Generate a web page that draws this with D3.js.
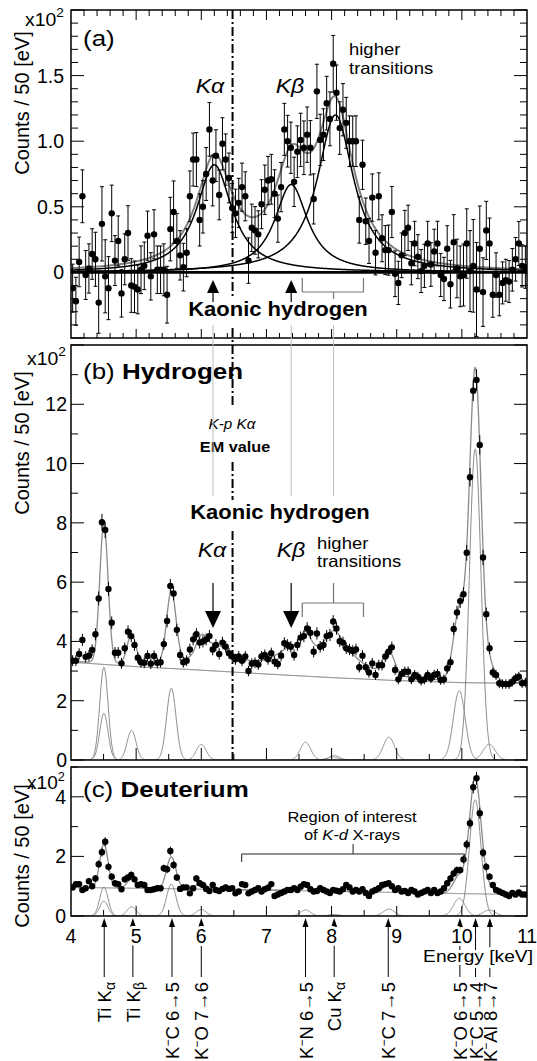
<!DOCTYPE html>
<html><head><meta charset="utf-8">
<script src="https://cdn.jsdelivr.net/npm/d3@7"></script>
<style>
html,body{margin:0;padding:0;background:#fff;}
svg{display:block;}
text{font-family:"Liberation Sans",Arial,Helvetica,sans-serif;}
</style></head><body>
<script>
// ---------------- DATA ----------------
const E_START = 4.0, BIN_WIDTH = 0.05;
// (a) kaonic hydrogen spectrum after background subtraction (x10^2 counts / 50 eV)
const countsA = [
 -0.12,-0.22,0.08,0.58,-0.02,0.03,0.14,0.10,-0.23,0.37,
 -0.03,-0.12,0.45,0.09,0.24,-0.16,0.10,0.30,-0.10,-0.11,
 -0.13,0.02,0.05,0.28,-0.03,0.29,0.02,0.02,0.02,-0.17,
 0.33,0.46,0.24,0.13,0.04,0.15,0.58,0.86,0.86,0.40,
 0.50,0.75,1.09,0.70,0.89,0.59,0.98,0.86,0.72,0.49,
 0.45,0.53,0.65,0.58,0.09,0.34,0.32,0.29,0.52,0.63,
 0.70,0.71,0.60,0.41,0.65,1.09,1.00,0.95,0.69,0.92,
 1.01,0.95,1.05,0.95,0.56,1.38,1.01,1.05,1.29,1.17,
 1.59,1.37,1.10,1.24,1.14,1.00,1.00,1.00,0.40,0.82,
 0.39,0.24,0.57,0.15,0.58,0.26,0.17,0.17,0.46,-0.01,
 -0.08,0.13,0.30,0.34,0.07,0.22,0.12,0.01,0.05,0.22,
 0.06,0.16,0.22,-0.02,-0.05,0.18,-0.09,0.23,0.03,-0.03,
 -0.02,0.22,0.01,0.05,-0.13,0.18,-0.15,0.32,0.22,-0.17,
 -0.02,-0.17,-0.08,-0.06,-0.07,0.02,0.10,0.22,0.05,0.04];
// (b) hydrogen target spectrum
const countsH = [
 3.35,3.35,3.58,4.05,3.48,3.52,3.71,4.24,5.45,8.02,
 7.76,5.77,4.63,3.62,3.62,3.26,3.77,4.33,4.18,3.88,
 3.45,3.30,3.28,3.51,3.25,3.51,3.28,3.30,3.91,4.69,
 5.87,5.62,4.39,3.54,3.30,3.35,3.73,4.07,4.24,3.96,
 4.00,4.07,4.18,3.73,3.88,3.58,3.96,3.82,3.60,3.49,
 3.40,3.49,3.35,3.49,3.00,3.25,3.28,3.22,3.49,3.54,
 3.40,3.60,3.32,3.24,3.52,3.94,3.88,3.82,3.54,3.88,
 4.13,4.18,4.44,4.29,3.65,4.27,3.82,3.88,4.18,4.22,
 4.67,4.44,4.01,3.96,3.77,3.73,3.68,3.73,3.13,3.52,
 3.13,2.95,3.26,2.87,3.20,3.20,3.49,3.65,3.80,3.04,
 2.72,2.90,2.98,2.98,2.72,2.87,2.81,2.68,2.72,2.87,
 2.76,2.87,2.90,2.70,2.72,3.09,3.30,4.42,4.98,5.36,
 5.59,6.99,9.54,12.46,12.82,10.63,6.83,4.92,3.77,2.95,
 2.87,2.59,2.56,2.56,2.56,2.64,2.76,2.81,2.59,2.61];
// (c) deuterium target spectrum
const countsD = [
 0.96,1.07,1.07,0.87,0.93,1.17,1.00,1.26,1.74,2.14,
 2.49,1.65,1.32,1.10,1.07,0.90,1.23,1.29,1.38,1.23,
 1.04,1.07,1.04,0.87,0.87,0.90,0.93,0.93,1.60,1.57,
 2.18,1.71,1.29,0.91,0.96,0.96,0.76,0.93,1.26,1.10,
 1.04,0.91,0.84,1.04,0.87,0.84,0.91,0.96,0.91,0.93,
 0.76,0.82,1.07,1.04,0.76,0.82,0.87,0.93,0.82,0.90,
 0.95,1.07,0.67,0.72,0.77,0.82,0.87,0.87,0.93,0.87,
 0.98,1.07,1.04,0.90,0.82,0.84,0.93,0.87,0.82,0.77,
 0.87,0.85,0.82,0.90,1.04,0.96,0.82,0.87,0.82,0.90,
 0.77,0.67,0.82,0.87,0.93,1.04,1.07,1.10,1.00,0.87,
 0.93,0.82,0.84,0.77,0.87,0.82,0.72,0.77,0.82,0.87,
 0.77,0.87,0.77,0.82,0.93,1.10,1.26,1.43,1.54,1.54,
 1.90,2.40,3.11,4.32,4.62,3.45,2.12,1.65,1.32,1.04,
 0.87,0.82,0.77,0.72,0.67,0.77,0.72,0.79,0.72,0.72];

// kaonic hydrogen Lorentzian components (panel a)
const khNames = ["Kα","Kβ","higher transitions"];
const khE = [6.20, 7.38, 8.06];
const khAmp = [0.82, 0.67, 1.20];
const khHalfWidth = [0.33, 0.31, 0.34];

// Gaussian X-ray lines (panels b, c)
const lineNames = ["Ti Kα1","Ti Kα2","Ti Kβ","K-C 6-5","K-O 7-6","K-N 6-5","Cu Kα1","Cu Kα2","K-C 7-5","K-O 6-5","K-C 5-4","K-Al 8-7"];
const lineE     = [4.505, 4.505, 4.93, 5.54, 6.00, 7.60, 8.04, 8.02, 8.88, 9.96, 10.205, 10.42];
const lineSigma = [0.064, 0.064, 0.068, 0.072, 0.075, 0.080, 0.082, 0.082, 0.086, 0.090, 0.088, 0.092];
const lineAmpH  = [3.13, 1.57, 1.00, 2.42, 0.53, 0.60, 0.15, 0.10, 0.77, 2.34, 10.5, 0.53];
const lineAmpD  = [0.97, 0.50, 0.31, 1.07, 0.22, 0.20, 0.05, 0.03, 0.23, 0.59, 3.90, 0.20];

// continuum background
const bgE = [4, 5, 6, 7, 8, 9, 10, 11];
const bgH = [3.30, 3.15, 3.03, 2.90, 2.78, 2.68, 2.61, 2.58];
const bgD = [0.96, 0.93, 0.90, 0.87, 0.83, 0.79, 0.75, 0.72];

// axis ticks
const xTickVals = [4, 5, 6, 7, 8, 9, 10, 11];
const yTicksA = [0, 0.5, 1.0, 1.5];
const yTickLabelsA = ["0", "0.5", "1.0", "1.5"];
const yTicksH = [0, 2, 4, 6, 8, 10, 12];
const yTicksD = [0, 2, 4];

// identified lines (bottom annotations)
const markNames = ["Ti Kα","Ti Kβ","K⁻C 6→5","K⁻O 7→6","K⁻N 6→5","Cu Kα","K⁻C 7→5","K⁻O 6→5","K⁻C 5→4","K⁻Al 8→7"];
const markE = [4.51, 4.95, 5.55, 6.00, 7.60, 8.04, 8.87, 9.97, 10.21, 10.43];

// annotation energies
const emValueE = 6.48;                 // K-p K-alpha EM value
const arrowE = [6.18, 7.38];           // K-alpha, K-beta arrows
const higherBracket = [7.55, 8.49, 8.03];
const roiBracket = [6.62, 10.04, 8.33];

// ---------------- DRAWING ----------------
const X0 = 71, X1 = 527;
const x = d3.scaleLinear().domain([4, 11]).range([X0, X1]);
const yA = d3.scaleLinear().domain([-0.5, 2.0]).range([338, 10]);
const yH = d3.scaleLinear().domain([0, 14]).range([760, 345]);
const yD = d3.scaleLinear().domain([0, 5]).range([916, 767]);

const svg = d3.select("body").append("svg").attr("width", 537).attr("height", 1061);
const binE = countsA.map((_, i) => E_START + BIN_WIDTH * (i + 0.5));
const errOf = v => Math.sqrt(Math.max(v, 0.3) * 100) / 100;
const fineE = d3.range(4, 11.0001, 0.005);

const bgHf = d3.scaleLinear().domain(bgE).range(bgH);
const bgDf = d3.scaleLinear().domain(bgE).range(bgD);
const lor = (e, k) => khAmp[k] / (1 + Math.pow((e - khE[k]) / khHalfWidth[k], 2));
const gau = (e, k, amp) => amp[k] * Math.exp(-Math.pow(e - lineE[k], 2) / (2 * lineSigma[k] * lineSigma[k]));
const khTot = e => d3.sum(khE, (_, k) => lor(e, k));
const totH = e => bgHf(e) + khTot(e) + d3.sum(lineE, (_, k) => gau(e, k, lineAmpH));
const totD = e => bgDf(e) + d3.sum(lineE, (_, k) => gau(e, k, lineAmpD));

function seg(g, x1, y1, x2, y2, stroke = "#000", w = 1, dash = null) {
  const l = g.append("line").attr("x1", x1).attr("y1", y1).attr("x2", x2).attr("y2", y2)
    .attr("stroke", stroke).attr("stroke-width", w);
  if (dash) l.attr("stroke-dasharray", dash);
  return l;
}
function txt(g, px, py, s, o = {}) {
  let tr = `translate(${px},${py})`;
  if (o.rot) tr += ` rotate(${o.rot})`;
  if (o.sx) tr += ` scale(${o.sx},1)`;
  const t = g.append("text").attr("transform", tr)
    .attr("font-size", o.size || 19)
    .attr("text-anchor", o.anchor || "start")
    .attr("font-weight", o.bold ? "bold" : "normal")
    .attr("font-style", o.italic ? "italic" : "normal")
    .attr("fill", o.fill || "#000");
  if (o.dy) t.attr("dy", o.dy);
  if (o.halo) t.attr("stroke", "#fff").attr("stroke-width", o.halo).attr("paint-order", "stroke").attr("stroke-linejoin", "round");
  if (typeof s === "string") t.text(s);
  else s.forEach(p => {
    const ts = t.append("tspan").text(p.t);
    if (p.dy) ts.attr("dy", p.dy);
    if (p.size) ts.attr("font-size", p.size);
    if (p.italic) ts.attr("font-style", "italic");
    if (p.bold) ts.attr("font-weight", "bold");
  });
  return t;
}
function clip(id, top, bottom) {
  svg.append("clipPath").attr("id", id).append("rect")
    .attr("x", X0).attr("y", top).attr("width", X1 - X0).attr("height", bottom - top);
}
function yTicks(y, lo, hi, step, majEvery, majLen, minLen) {
  const n = Math.round((hi - lo) / step);
  for (let k = 0; k <= n; k++) {
    const v = lo + k * step;
    const maj = Math.abs(v / majEvery - Math.round(v / majEvery)) < 1e-6;
    const L = maj ? majLen : minLen, py = y(v);
    seg(svg, X0, py, X0 + L, py);
    seg(svg, X1, py, X1 - L, py);
  }
}
function xTicks(py, dir, step, majLen, minLen) {
  const n = Math.round(7 / step);
  for (let k = 1; k < n; k++) {
    const v = 4 + k * step;
    const maj = Math.abs(v - Math.round(v)) < 1e-6;
    seg(svg, x(v), py, x(v), py + dir * (maj ? majLen : minLen));
  }
}
function dataPoints(g, vals, y, caps) {
  vals.forEach((v, i) => {
    const px = x(binE[i]), e = errOf(caps ? countsH[i] : v);
    seg(g, px, y(v - e), px, y(v + e), "#000", 1);
    if (caps) { seg(g, px - 2, y(v - e), px + 2, y(v - e)); seg(g, px - 2, y(v + e), px + 2, y(v + e)); }
  });
  g.selectAll(null).data(vals).enter().append("circle")
    .attr("cx", (d, i) => x(binE[i])).attr("cy", d => y(d)).attr("r", 3.2).attr("fill", "#000");
}
function curve(g, f, y, stroke, w) {
  g.append("path").attr("d", d3.line().x(e => x(e)).y(e => y(f(e)))(fineE))
    .attr("fill", "none").attr("stroke", stroke).attr("stroke-width", w);
}

// ---------- panel (a) ----------
clip("ca", 10, 338);
const ga = svg.append("g").attr("clip-path", "url(#ca)");
seg(ga, X0, yA(0), X1, yA(0), "#000", 2.6);
curve(ga, khTot, yA, "#808080", 2);
khE.forEach((_, k) => curve(ga, e => lor(e, k), yA, "#000", 1.5));
dataPoints(ga, countsA, yA, true);
svg.append("rect").attr("x", X0).attr("y", 10).attr("width", X1 - X0).attr("height", 328)
  .attr("fill", "none").attr("stroke", "#000").attr("stroke-width", 1.5);
yTicks(yA, -0.5, 2.0, 0.1, 0.5, 13, 7);
xTicks(10, 1, 0.2, 10, 6);
xTicks(338, -1, 0.2, 9, 5);
yTicksA.forEach((v, i) => txt(svg, 64, yA(v), yTickLabelsA[i], { anchor: "end", size: 19.5, dy: "0.36em" }));
txt(svg, 25, 26, [{ t: "x10" }, { t: "2", size: 13, dy: -9 }], { size: 18.5, sx: 1.05 });
txt(svg, 29, 103, "Counts / 50 [eV]", { rot: -90, anchor: "middle", size: 20 });
txt(svg, 83, 46, "(a)", { size: 22, sx: 1.18 });
txt(svg, 210, 93, "Kα", { size: 21, italic: true, anchor: "middle", sx: 1.1 });
txt(svg, 290, 93, "Kβ", { size: 21, italic: true, anchor: "middle", sx: 1.1 });
txt(svg, 349, 55, "higher", { size: 16.5, sx: 1.12 });
txt(svg, 349, 74, "transitions", { size: 16.5, sx: 1.12 });
// arrows up
arrowE.forEach(e => {
  const px = x(e);
  seg(svg, px, 290, px, 302, "#000", 1.2);
  svg.append("path").attr("d", `M${px},280 L${px - 6},293 L${px + 6},293 Z`).attr("fill", "#000");
});
// bracket (a)
{
  const b0 = x(higherBracket[0]), b1 = x(higherBracket[1]), bm = x(higherBracket[2]);
  const g = svg.append("g");
  seg(g, b0, 278, b0, 292, "#777", 1.2); seg(g, b1, 278, b1, 292, "#777", 1.2);
  seg(g, b0, 292, b1, 292, "#777", 1.2); seg(g, bm, 292, bm, 299, "#777", 1.2);
}
txt(svg, 278, 316, "Kaonic hydrogen", { size: 20, bold: true, anchor: "middle", sx: 1.1 });

// ---------- panel (b) ----------
clip("cb", 345, 760);
const gb = svg.append("g").attr("clip-path", "url(#cb)");
lineE.forEach((_, k) => {
  const es = fineE.filter(e => Math.abs(e - lineE[k]) < 6 * lineSigma[k]);
  gb.append("path").attr("d", d3.line().x(e => x(e)).y(e => yH(gau(e, k, lineAmpH)))(es))
    .attr("fill", "none").attr("stroke", "#8c8c8c").attr("stroke-width", 1);
});
curve(gb, bgHf, yH, "#666", 1);
curve(gb, totH, yH, "#8a8a8a", 1.3);
dataPoints(gb, countsH, yH, false);
svg.append("rect").attr("x", X0).attr("y", 345).attr("width", X1 - X0).attr("height", 415)
  .attr("fill", "none").attr("stroke", "#000").attr("stroke-width", 1.5);
yTicks(yH, 0, 14, 1, 2, 13, 7);
xTicks(760, -1, 0.5, 12, 6);
yTicksH.forEach(v => txt(svg, 67, yH(v), String(v), { anchor: "end", size: 19.5, dy: "0.36em" }));
txt(svg, 27, 365, [{ t: "x10" }, { t: "2", size: 13, dy: -9 }], { size: 18.5, sx: 1.05 });
txt(svg, 29, 443, "Counts / 50 [eV]", { rot: -90, anchor: "middle", size: 20 });
txt(svg, 83, 379, [{ t: "(b) " }, { t: "Hydrogen", bold: true }], { size: 22, sx: 1.18 });
txt(svg, 232, 429, "K-p Kα", { size: 15, italic: true, anchor: "middle", sx: 1.02 });
txt(svg, 235, 452, "EM value", { size: 14.5, bold: true, anchor: "middle", sx: 1.12 });
txt(svg, 280, 519, "Kaonic hydrogen", { size: 20, bold: true, anchor: "middle", sx: 1.1 });
txt(svg, 212, 557, "Kα", { size: 21, italic: true, anchor: "middle", sx: 1.1 });
txt(svg, 291, 557, "Kβ", { size: 21, italic: true, anchor: "middle", sx: 1.1 });
txt(svg, 317, 549, "higher", { size: 16.5, sx: 1.12 });
txt(svg, 317, 567, "transitions", { size: 16.5, sx: 1.12 });
arrowE.forEach(e => {
  const px = x(e);
  seg(svg, px, 583, px, 614, "#000", 1.2);
  svg.append("path").attr("d", `M${px},628 L${px - 8},611 L${px + 8},611 Z`).attr("fill", "#000");
});
{
  const b0 = x(higherBracket[0]), b1 = x(higherBracket[1]), bm = x(higherBracket[2]);
  seg(svg, b0, 603, b1, 603, "#777", 1.2); seg(svg, b0, 603, b0, 617, "#777", 1.2);
  seg(svg, b1, 603, b1, 617, "#777", 1.2); seg(svg, bm, 603, bm, 583, "#777", 1.2);
}

// connecting grey lines (a)->(b)
[arrowE[0], arrowE[1], higherBracket[2]].forEach(e => seg(svg, x(e), 325, x(e), 496, "#bdbdbd", 1));

// EM value dash-dot line
[[10, 297], [328, 407], [462, 500], [531, 760]].forEach(s =>
  seg(svg, x(emValueE), s[0], x(emValueE), s[1], "#000", 2, "9,3,2,3"));

// ---------- panel (c) ----------
clip("cc", 767, 916);
const gc = svg.append("g").attr("clip-path", "url(#cc)");
lineE.forEach((_, k) => {
  const es = fineE.filter(e => Math.abs(e - lineE[k]) < 6 * lineSigma[k]);
  gc.append("path").attr("d", d3.line().x(e => x(e)).y(e => yD(gau(e, k, lineAmpD)))(es))
    .attr("fill", "none").attr("stroke", "#8c8c8c").attr("stroke-width", 1);
});
curve(gc, bgDf, yD, "#777", 1);
curve(gc, totD, yD, "#8a8a8a", 1.3);
dataPoints(gc, countsD, yD, false);
svg.append("rect").attr("x", X0).attr("y", 767).attr("width", X1 - X0).attr("height", 149)
  .attr("fill", "none").attr("stroke", "#000").attr("stroke-width", 1.5);
yTicks(yD, 0, 5, 1, 2, 13, 7);
xTicks(916, -1, 0.5, 10, 6);
yTicksD.forEach(v => txt(svg, 66, yD(v), String(v), { anchor: "end", size: 19.5, dy: "0.36em" }));
txt(svg, 27, 789, [{ t: "x10" }, { t: "2", size: 12, dy: -8 }], { size: 18, sx: 1.06 });
txt(svg, 29, 856, "Counts / 50 [eV]", { rot: -90, anchor: "middle", size: 20 });
txt(svg, 83, 797, [{ t: "(c) " }, { t: "Deuterium", bold: true }], { size: 22, sx: 1.18 });
txt(svg, 352, 822, "Region of interest", { size: 15, anchor: "middle", sx: 1.1 });
txt(svg, 352, 840, [{ t: "of " }, { t: "K-d", italic: true }, { t: " X-rays" }], { size: 15, anchor: "middle", sx: 1.1 });
{
  const b0 = x(roiBracket[0]), b1 = x(roiBracket[1]), bm = x(roiBracket[2]);
  seg(svg, b0, 854, b1, 854, "#222", 1); seg(svg, b0, 854, b0, 862, "#222", 1);
  seg(svg, b1, 854, b1, 862, "#222", 1); seg(svg, bm, 854, bm, 844, "#222", 1);
}

// bottom annotations: arrows and rotated labels
markE.forEach((e, i) => {
  const px = x(e);
  seg(svg, px, 925, px, 977, "#000", 1);
  svg.append("path").attr("d", `M${px},918 L${px - 3},927 L${px + 3},927 Z`).attr("fill", "#000");
  const name = markNames[i];
  let parts;
  if (name.startsWith("K⁻")) parts = [{ t: "K" }, { t: "−", size: 12, dy: -7 }, { t: name.slice(2), dy: 7 }];
  else { const m = name.match(/^(.*K)([αβ])$/); parts = [{ t: m[1] }, { t: m[2], size: 14, dy: 4 }]; }
  txt(svg, px + 7, 982, parts, { rot: -90, anchor: "end", size: 18.5 });
});
// x tick labels and axis title (with white knock-out)
xTickVals.forEach(v => txt(svg, x(v), 943, String(v), { anchor: "middle", size: 19.5, halo: 6 }));
txt(svg, 533, 962, "Energy [keV]", { anchor: "end", size: 17, sx: 1.13, halo: 6 });
</script>
</body></html>
